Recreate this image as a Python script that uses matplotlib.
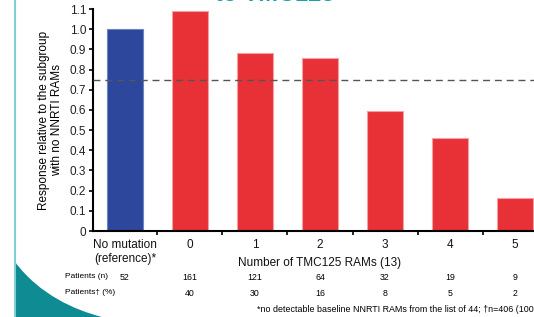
import numpy as np
import matplotlib
matplotlib.use("Agg")
import matplotlib.pyplot as plt
from matplotlib.path import Path
from matplotlib.patches import PathPatch

plt.rcParams['font.family'] = ['Liberation Sans', 'DejaVu Sans']

# data
categories = ['No mutation\n(reference)*', '0', '1', '2', '3', '4', '5']
response = [1.0, 1.09, 0.88, 0.855, 0.595, 0.46, 0.163]
patients_n = ['52', '161', '121', '64', '32', '19', '9']
patients_pct = ['', '40', '30', '16', '8', '5', '2']
cutoff = 0.75
yticks = [0, 0.1, 0.2, 0.3, 0.4, 0.5, 0.6, 0.7, 0.8, 0.9, 1.0, 1.1]
yticklabels = ['0', '0.1', '0.2', '0.3', '0.4', '0.5', '0.6', '0.7', '0.8', '0.9', '1.0', '1.1']

blue = '#2c479c'
red = '#e83037'
teal = '#0f8b93'

fig = plt.figure(figsize=(5.34, 3.17), dpi=100)
ax = fig.add_axes([93 / 534, 86 / 317, 1 - 93 / 534, 222 / 317])

x = np.arange(len(categories))
colors = [blue] + [red] * (len(categories) - 1)
edges = ['#6f83c0'] + ['#f2a0a4'] * (len(categories) - 1)
ax.bar(x, response, width=0.55, color=colors, edgecolor=edges, linewidth=0.8, zorder=2)
ax.axhline(cutoff, color='#555555', linestyle=(0, (5, 3.5)), linewidth=1.0, zorder=3)

ax.set_xlim(-0.49, 6.29)
ax.set_ylim(0, 1.1)
ax.set_yticks(yticks)
ax.set_yticklabels(yticklabels, fontsize=8.5, color='#222222')
ax.set_xticks(x[:-1] + 0.5)
ax.set_xticklabels([])
ax.tick_params(axis='both', direction='out', length=3, width=1.2, color='black')
ax.tick_params(axis='y', pad=2)
for s in ['top', 'right']:
    ax.spines[s].set_visible(False)
ax.spines['left'].set_linewidth(1.5)
ax.spines['bottom'].set_linewidth(1.5)

ax.set_ylabel('Response relative to the subgroup\nwith no NNRTI RAMs', fontsize=8.5, labelpad=5, linespacing=1.1)

# category labels
for xi, lab in zip(x, categories):
    ax.text(xi, -0.035, lab, transform=ax.get_xaxis_transform(), ha='center', va='top',
            fontsize=8.5, linespacing=1.25, color='#111111')
ax.text(3.0, -0.118, 'Number of TMC125 RAMs (13)', transform=ax.get_xaxis_transform(),
        ha='center', va='top', fontsize=8.5, color='#111111')

# patient rows
row_n = 1 - 277 / 317
row_pct = 1 - 293 / 317
fig.text(65 / 534, row_n, 'Patients (n)', ha='left', va='center', fontsize=6)
fig.text(65 / 534, row_pct, 'Patients\u2020 (%)', ha='left', va='center', fontsize=6)
for xi, n, p in zip(x, patients_n, patients_pct):
    ax.text(xi, row_n, n, transform=matplotlib.transforms.blended_transform_factory(ax.transData, fig.transFigure),
            ha='center', va='center', fontsize=6.3)
    if p:
        ax.text(xi, row_pct, p, transform=matplotlib.transforms.blended_transform_factory(ax.transData, fig.transFigure),
                ha='center', va='center', fontsize=6.3)

fig.text(257 / 534, 1 - 309 / 317,
         '*no detectable baseline NNRTI RAMs from the list of 44; \u2020n=406 (100%)',
         ha='left', va='center', fontsize=6.4)

# slide decoration
fig.add_artist(plt.Line2D([15 / 534, 15 / 534], [0, 1], transform=fig.transFigure,
                          color='#7fcfd4', linewidth=1.5))
verts = [(15 / 534, 1 - 262 / 317), (40 / 534, 1 - 295 / 317), (75 / 534, 1 - 310 / 317),
         (102 / 534, 0), (15 / 534, 0), (15 / 534, 1 - 262 / 317)]
codes = [Path.MOVETO, Path.CURVE4, Path.CURVE4, Path.CURVE4, Path.LINETO, Path.CLOSEPOLY]
fig.add_artist(PathPatch(Path(verts, codes), transform=fig.transFigure, facecolor=teal,
                         edgecolor='none'))
fig.text(275 / 534, 1 - 1 / 317, 'to TMC125', ha='center', va='baseline', fontsize=17,
         fontweight='bold', color='#1aa0a8')

fig.savefig('out.png', dpi=100)
